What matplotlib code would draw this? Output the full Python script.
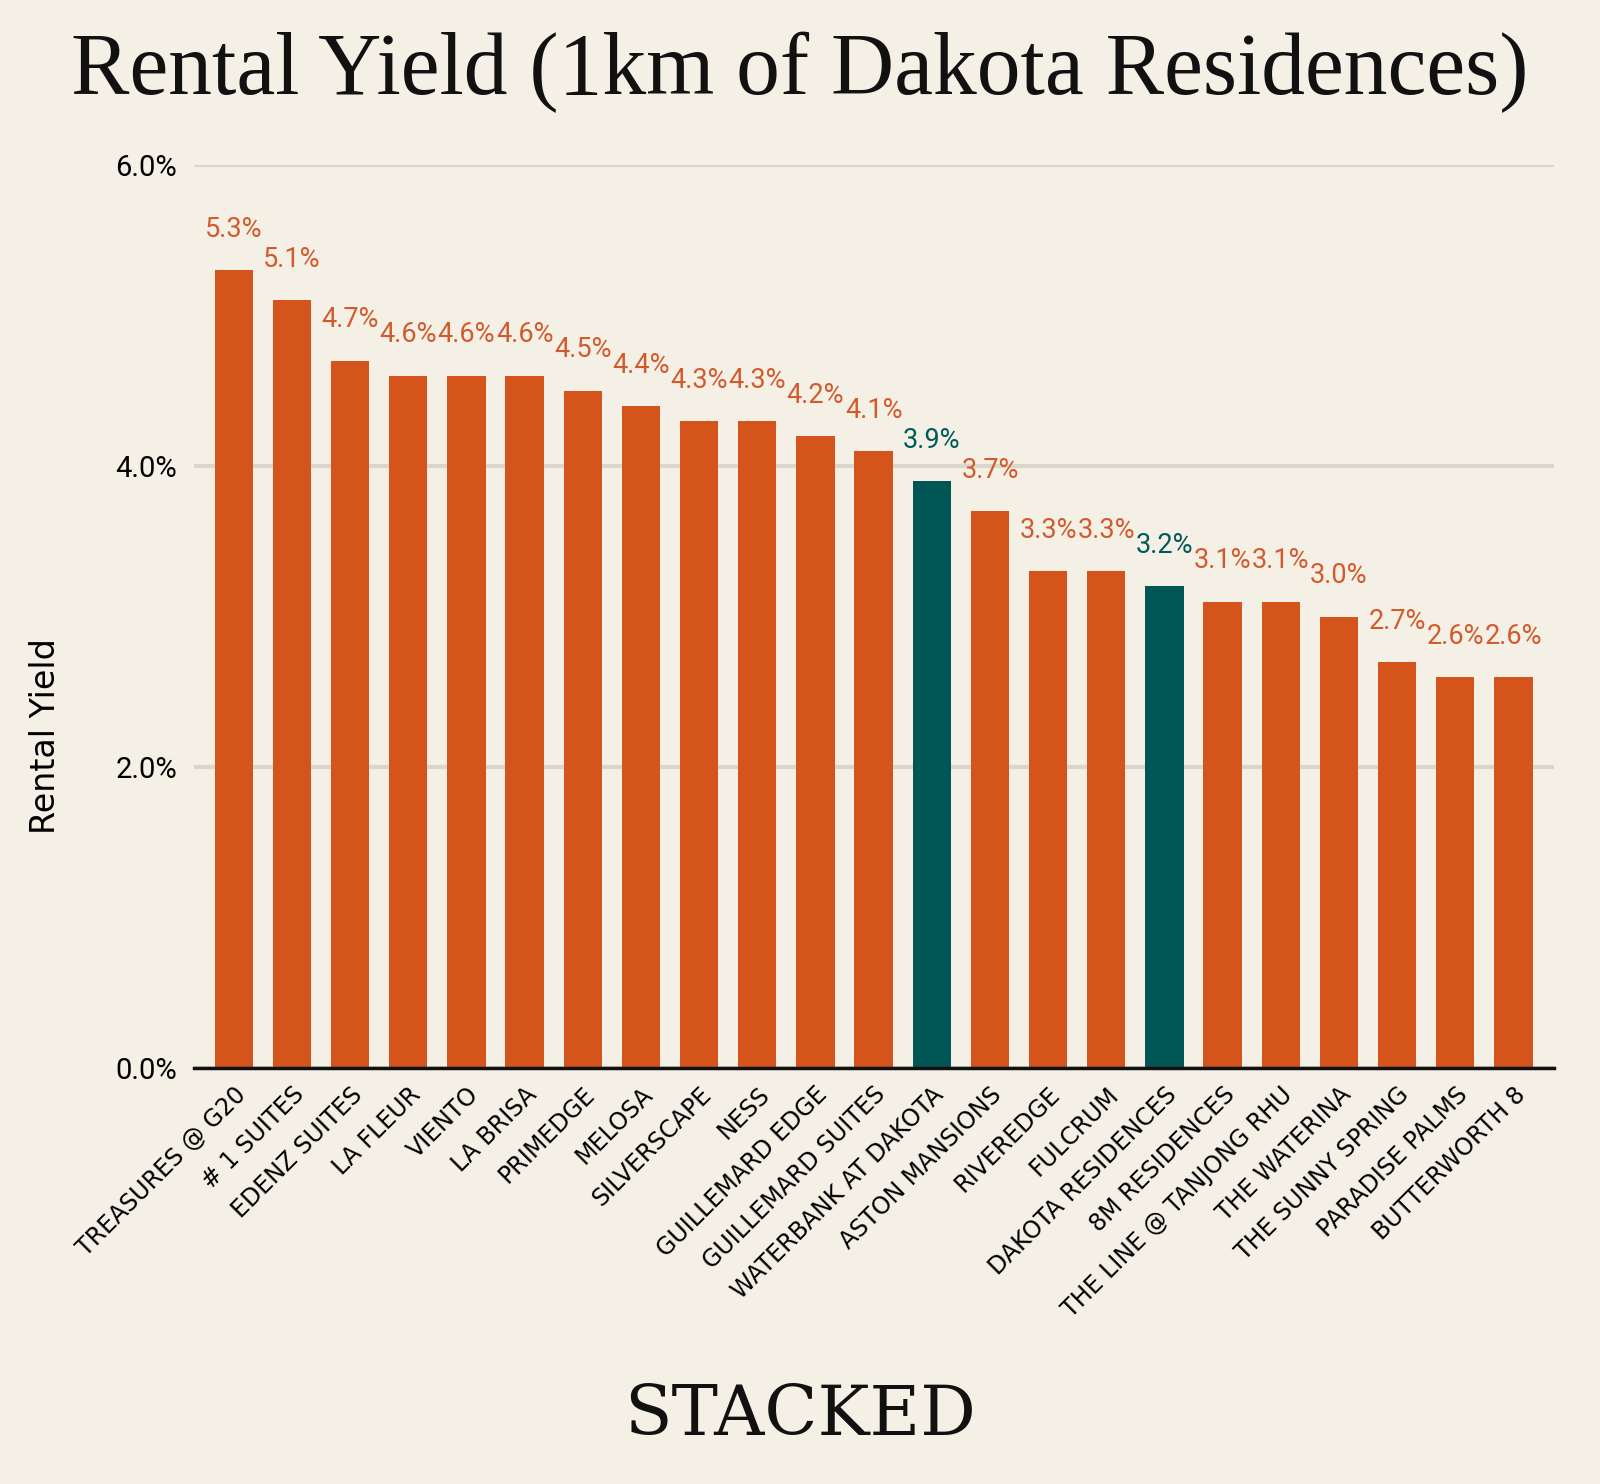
import matplotlib.pyplot as plt

names = ['TREASURES @ G20', '# 1 SUITES', 'EDENZ SUITES', 'LA FLEUR', 'VIENTO', 'LA BRISA',
         'PRIMEDGE', 'MELOSA', 'SILVERSCAPE', 'NESS', 'GUILLEMARD EDGE', 'GUILLEMARD SUITES',
         'WATERBANK AT DAKOTA', 'ASTON MANSIONS', 'RIVEREDGE', 'FULCRUM', 'DAKOTA RESIDENCES',
         '8M RESIDENCES', 'THE LINE @ TANJONG RHU', 'THE WATERINA', 'THE SUNNY SPRING',
         'PARADISE PALMS', 'BUTTERWORTH 8']
yields = [5.3, 5.1, 4.7, 4.6, 4.6, 4.6, 4.5, 4.4, 4.3, 4.3, 4.2, 4.1, 3.9, 3.7,
          3.3, 3.3, 3.2, 3.1, 3.1, 3.0, 2.7, 2.6, 2.6]
highlight = ['WATERBANK AT DAKOTA', 'DAKOTA RESIDENCES']
yticks = [0, 2, 4, 6]

bg = '#F5F0E6'
orange = '#D4541C'
teal = '#005555'

fig = plt.figure(figsize=(16, 14.84), dpi=100, facecolor=bg)
ax = fig.add_axes([0.121, 0.280, 0.850, 0.609])
ax.set_facecolor(bg)

colors = [teal if n in highlight else orange for n in names]
x = list(range(len(names)))
ax.bar(x, yields, width=0.66, color=colors, zorder=3)

for xi, v, n in zip(x, yields, names):
    c = '#005A5A' if n in highlight else '#D35A2C'
    ax.text(xi, v + 0.27, f'{v:.1f}%', ha='center', va='center', color=c,
            fontsize=19.5, family='Roboto', zorder=4)

ax.set_xlim(-0.69, len(names) - 1 + 0.69)
ax.set_ylim(0, 6)
ax.set_yticks(yticks)
ax.set_yticklabels([f'{t:.1f}%' for t in yticks], family='Roboto', fontsize=21)
ax.yaxis.grid(True, color='#DBD6CB', linewidth=3, zorder=0)
ax.tick_params(axis='y', length=0, pad=12)
ax.tick_params(axis='x', length=0, pad=10)
ax.set_xticks(x)
ax.set_xticklabels(names, rotation=45, ha='right', rotation_mode='anchor',
                   family='DejaVu Sans', fontsize=17)
for s in ['top', 'right', 'left']:
    ax.spines[s].set_visible(False)
ax.spines['bottom'].set_linewidth(2.5)
ax.spines['bottom'].set_color('#111111')
ax.spines['bottom'].set_zorder(5)

ax.set_ylabel('Rental Yield', family='DejaVu Sans', fontsize=24)
ax.yaxis.set_label_coords(-0.097, 0.368)

fig.text(0.5, 0.951, 'Rental Yield (1km of Dakota Residences)', ha='center', va='center',
         family='Liberation Serif', fontsize=63, color='#111111')
fig.text(0.5, 0.046, 'STACKED', ha='center', va='center',
         family='DejaVu Serif', fontsize=50, color='#111111')

fig.savefig('out.png', dpi=100, facecolor=bg)
